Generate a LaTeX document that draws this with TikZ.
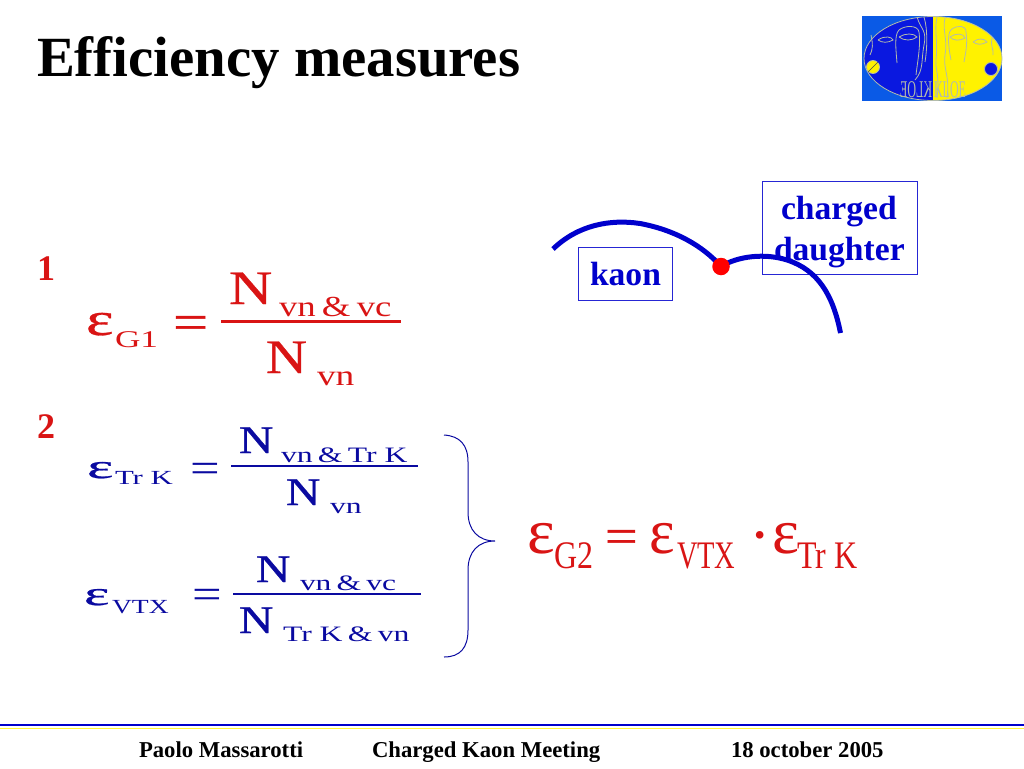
\documentclass[tikz,border=0pt]{standalone}
\usepackage{fontspec}
\setmainfont[Ligatures=NoCommon]{Liberation Serif}
\definecolor{fred}{HTML}{D91414}
\definecolor{fblue}{HTML}{0A0AA0}
\definecolor{lblue}{HTML}{0000CC}
\definecolor{logob}{HTML}{0A5AE6}
\definecolor{logod}{HTML}{0A18E0}
\definecolor{logoy}{HTML}{FFF200}
\definecolor{logog}{HTML}{B4BCAA}
\newcommand{\fsz}[1]{\fontsize{#1}{#1}\selectfont}
\newcommand{\hvy}{\addfontfeature{FakeBold=0.6}}
\tikzset{
  t/.style={inner sep=0pt,outer sep=0pt,anchor=base west},
  title/.style={t,font=\bfseries\fsz{56.8}},
  lab/.style={t,font=\bfseries\fsz{36},text=fred},
  foot/.style={t,font=\bfseries\fsz{22.7}},
  lbox/.style={draw=lblue!85!white,line width=0.9pt,inner sep=0pt,anchor=center},
  ltext/.style={t,text=lblue,font=\bfseries\fsz{33.6}},
  track/.style={draw=lblue,line width=5pt},
  fr/.style={t,text=fred},
  fb/.style={t,text=fblue},
  barr/.style={draw=fred,line width=2.2pt},
  barb/.style={draw=fblue,line width=1.6pt},
  lface/.style={draw=logog,line width=0.8pt}
}
\begin{document}
\begin{tikzpicture}[x=1pt,y=-1pt]
\useasboundingbox (0,0) rectangle (1024,768);
% title
\node[title] (ttl) at (37,77) {Efficiency measures};
% logo
\fill[logob] (862,16) rectangle (1002,101);
\begin{scope}
\clip (862,16) rectangle (933,101);
\fill[logod] (933,58.5) ellipse [x radius=69,y radius=42];
\end{scope}
\begin{scope}
\clip (933,16) rectangle (1002,101);
\fill[logoy] (933,58.5) ellipse [x radius=69,y radius=42];
\end{scope}
\draw[lface] (933,58.5) ellipse [x radius=69,y radius=42];
\draw[lface] (878,40) .. controls (885,35) and (892,37) .. (893,40) .. controls (888,43) and (882,43) .. (878,40);
\draw[lface] (899,37) .. controls (905,33) and (914,33) .. (917,37) .. controls (912,41) and (904,41) .. (899,37);
\draw[lface] (897,63) .. controls (896,50) and (894,35) .. (899,30) .. controls (905,25) and (918,25) .. (919,32) .. controls (921,45) and (917,65) .. (916,75);
\draw[lface] (917,17) .. controls (921,30) and (927,30) .. (924,45) .. controls (921,60) and (924,70) .. (915,80);
\draw[lface] (924,17) .. controls (928,30) and (927,50) .. (925,62);
\draw[lface] (871,35) .. controls (873,45) and (873,48) .. (870,55);
\draw[lface] (950,37) .. controls (955,33) and (964,33) .. (965,38) .. controls (960,41) and (953,41) .. (950,37);
\draw[lface] (973,42) .. controls (978,38) and (984,38) .. (987,42) .. controls (982,45) and (977,45) .. (973,42);
\draw[lface] (951,60) .. controls (948,45) and (947,32) .. (952,29) .. controls (958,25) and (966,25) .. (966,32) .. controls (968,45) and (965,55) .. (964,62);
\draw[lface] (945,18) .. controls (942,30) and (948,40) .. (945,55) .. controls (943,70) and (950,75) .. (947,98);
\draw[lface] (937,17) .. controls (934,30) and (938,40) .. (936,60) .. controls (935,70) and (940,75) .. (937,98);
\draw[lface] (992,38) .. controls (990,45) and (994,50) .. (993,55);
\node[circle,draw=logog,fill=logoy,line width=0.8pt,minimum size=13pt,inner sep=0pt] (ballL) at (873,67) {};
\draw[draw=black!70,line width=0.6pt] (ballL.south west) -- (ballL.north east);
\node[circle,draw=logog,fill=logod,line width=0.8pt,minimum size=13pt,inner sep=0pt] (ballR) at (991,69) {};
\node[t,text=logog,font=\fsz{24},xscale=0.5] (klR) at (934,97) {KLOE};
\node[t,text=logog,font=\fsz{24},xscale=-0.5] (klL) at (932,97) {KLOE};
% diagram
\node[lbox,minimum width=94pt,minimum height=53pt] (kaon) at (625,273.5) {};
\node[ltext] (kaont) at (590,285) {kaon};
\node[lbox,minimum width=154.5pt,minimum height=93pt] (chd) at (839.8,227.5) {};
\node[ltext] (chdt1) at (781,219) {charged};
\node[ltext] (chdt2) at (774,260) {daughter};
\coordinate (v) at (721,266.5);
\coordinate (ka) at (553,249);
\coordinate (da) at (840.5,333);
\draw[track] (ka) .. controls (578,225) and (610,219) .. (640,223.5) .. controls (675,230) and (703,246) .. (v);
\draw[track] (v) .. controls (738,256) and (765,253) .. (787,260) .. controls (818,270) and (833,295) .. (da);
\node[circle,fill=red,inner sep=0pt,minimum size=17.5pt] (vtx) at (v) {};
% labels
\node[lab] (n1) at (37,280) {1};
\node[lab] (n2) at (37,438) {2};
% formula G1
\node[fr,font=\fsz{47}\hvy,xscale=1.4] (e1) at (86,335) {ε};
\node[fr,font=\fsz{24},xscale=1.47] (g1) at (115,347) {G1};
\node[fr,font=\fsz{50}\hvy,xscale=1.25] (eq1) at (173,339) {=};
\draw[barr] (221,321.5) -- (401,321.5);
\node[fr,font=\fsz{48}\hvy,xscale=1.25] (n1a) at (229,304) {N};
\node[fr,font=\fsz{29},xscale=1.27] (s1a) at (279,316) {vn\,\&\,vc};
\node[fr,font=\fsz{48}\hvy,xscale=1.18] (n1b) at (266,373) {N};
\node[fr,font=\fsz{29},xscale=1.29] (s1b) at (317,385) {vn};
% formula Tr K
\node[fb,font=\fsz{34}\hvy,xscale=1.85] (e2) at (87,478) {ε};
\node[fb,font=\fsz{20},xscale=1.54] (g2) at (115,484) {Tr K};
\node[fb,font=\fsz{42},xscale=1.25] (eq2) at (190,482) {=};
\draw[barb] (231,466) -- (418,466);
\node[fb,font=\fsz{39}\hvy,xscale=1.22] (n2a) at (239,453) {N};
\node[fb,font=\fsz{22},xscale=1.44] (s2a) at (281,462) {vn\,\&\,Tr K};
\node[fb,font=\fsz{39}\hvy,xscale=1.22] (n2b) at (286,505) {N};
\node[fb,font=\fsz{22},xscale=1.44] (s2b) at (330,513) {vn};
% formula VTX
\node[fb,font=\fsz{34}\hvy,xscale=1.78] (e3) at (84,605) {ε};
\node[fb,font=\fsz{20},xscale=1.38] (g3) at (112,613) {VTX};
\node[fb,font=\fsz{42},xscale=1.25] (eq3) at (192,608) {=};
\draw[barb] (233,594) -- (421,594);
\node[fb,font=\fsz{39}\hvy,xscale=1.22] (n3a) at (256,582) {N};
\node[fb,font=\fsz{22},xscale=1.43] (s3a) at (300,590) {vn\,\&\,vc};
\node[fb,font=\fsz{39}\hvy,xscale=1.22] (n3b) at (239,633) {N};
\node[fb,font=\fsz{22},xscale=1.44] (s3b) at (283,641) {Tr K\,\&\,vn};
% brace
\coordinate (bt) at (444,435);
\coordinate (bm) at (495,541);
\coordinate (bb) at (444,657);
\draw[draw=fblue,line width=1pt] (bt) .. controls (460,436) and (468,445) .. (468,462) -- (468,512) .. controls (468,530) and (478,541) .. (bm) .. controls (478,541) and (468,552) .. (468,570) -- (468,630) .. controls (468,648) and (460,657) .. (bb);
% formula G2
\node[fr,font=\fsz{64},xscale=1.03] (e4) at (527,553) {ε};
\node[fr,font=\fsz{39},xscale=0.82] (g4) at (554,568.5) {G2};
\node[fr,font=\fsz{50}\hvy,xscale=1.16] (eq4) at (605,553) {=};
\node[fr,font=\fsz{64},xscale=0.95] (e5) at (649,553) {ε};
\node[fr,font=\fsz{39},xscale=0.73] (g5) at (677,568.5) {VTX};
\node[fr,font=\fsz{64}] (dt) at (749,556) {·};
\node[fr,font=\fsz{64},xscale=1.0] (e6) at (772,553) {ε};
\node[fr,font=\fsz{39},xscale=0.82] (g6) at (797,568.5) {Tr K};
% footer
\draw[draw=blue!80!black,line width=2.4pt] (0,725) -- (1024,725);
\draw[draw=logoy!80!white,line width=1.5pt] (0,728.5) -- (1024,728.5);
\node[foot] (f1) at (139,757) {Paolo Massarotti};
\node[foot] (f2) at (372,757) {Charged Kaon Meeting};
\node[foot] (f3) at (731,757) {18 october 2005};
\end{tikzpicture}
\end{document}
